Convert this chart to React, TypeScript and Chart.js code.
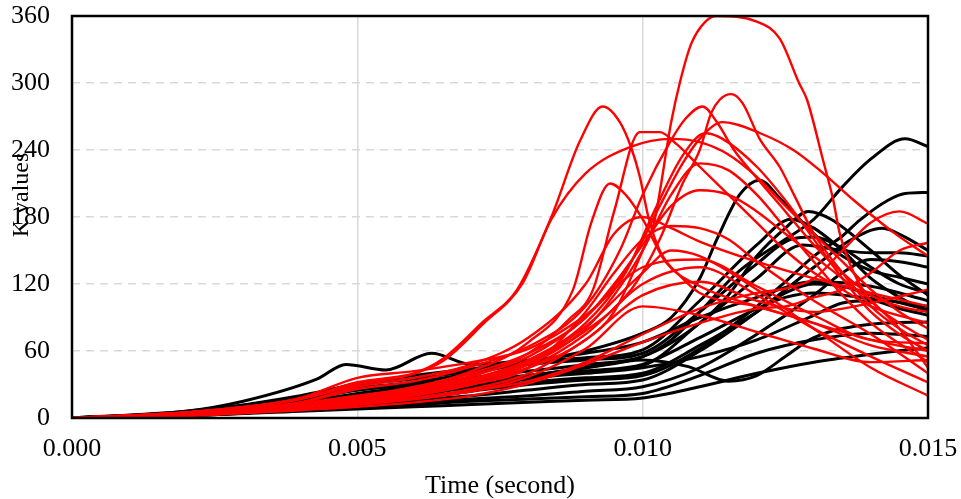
import React, { useEffect, useRef } from "react";
import { Chart, registerables } from "chart.js";

Chart.register(...registerables);

// Time in milliseconds, K value
const xTicks = [0, 0.005, 0.01, 0.015];
const yTicks = [0, 60, 120, 180, 240, 300, 360];

const R1 = [[0,0],[2,5],[4,13],[5,20],[6,26],[7,33],[8,45],[9,70],[9.5,95],[10,150],[10.2,175],[10.5,265],[10.65,300],[10.85,335],[11.1,355],[11.3,360],[12,355],[12.4,340],[12.74,300],[12.88,285],[13.16,231],[13.34,195],[13.45,166],[13.7,130],[14,105],[14.5,85],[15,70]];
const R2 = [[0,0],[2,5],[4,17],[5,30],[6,40],[6.5,53],[7.2,86],[7.8,115],[8.4,180],[8.9,248],[9.3,279],[9.6,265],[9.8,242],[9.95,216],[10.1,180],[10.3,150],[10.7,125],[11,112],[12,100],[13,85],[14,70],[15,60]];
const R3 = [[0,0],[2,5],[4,17],[5,32],[6,40],[6.5,51],[7.2,84],[7.9,121],[8.4,178],[9,219],[9.8,243],[10.5,250],[11,247],[11.5,236],[12,216],[12.5,190],[13,165],[13.5,140],[14,115],[14.5,95],[15,80]];
const R4 = [[0,0],[2,4],[4,12],[5,18],[6,27],[7,42],[8,68],[8.78,115],[9.1,175],[9.43,210],[9.7,200],[10,178],[10.4,140],[11,118],[12,100],[13,85],[14,65],[15,55]];
const R5 = [[0,0],[2,4],[4,11],[5,17],[6,25],[7,37],[8,58],[8.7,88],[9.13,115],[9.5,185],[9.95,256],[10.3,256],[10.6,245],[11,225],[11.5,200],[12,175],[12.5,150],[13,130],[13.5,115],[14,100],[15,85]];
const R6 = [[0,0],[2,4],[4,10],[5,16],[6,23],[7,34],[8,50],[9,78],[9.8,115],[10.3,160],[10.7,210],[11,240],[11.2,273],[11.35,285],[11.55,290],[11.75,282],[12.05,250],[12.4,225],[12.65,200],[13,165],[13.5,130],[14,100],[14.5,80],[15,65]];
const R7 = [[0,0],[2,5],[4,14],[5,26],[6,33],[7,46],[8,64],[9,100],[9.6,150],[10,200],[10.5,249],[10.75,268],[11.05,279],[11.3,265],[11.6,240],[12,215],[12.5,185],[13,155],[13.5,130],[14,110],[14.5,100],[15,95]];
const R8 = [[0,0],[2,4],[4,12],[5,19],[6,28],[7,40],[8,58],[9,90],[9.8,140],[10.3,190],[10.7,228],[11,250],[11.4,265],[12.06,255],[12.64,240],[13.1,222],[13.7,195],[14.4,166],[15,145]];
const R9 = [[0,0],[2,4],[4,11],[5,17],[6,24],[7,35],[8,52],[9,85],[9.7,130],[10.2,185],[10.7,235],[11.1,255],[11.4,250],[12,225],[12.5,195],[13,160],[13.5,125],[14,95],[14.5,75],[15,60]];
const R10 = [[0,0],[2,3],[4,10],[5,15],[6,22],[7,32],[8,48],[9,80],[9.5,110],[10,150],[10.5,200],[11,228],[11.5,222],[12,200],[12.5,170],[13,140],[13.5,110],[14,85],[15,50]];
const R11 = [[0,0],[2,4],[4,12],[5,18],[6,26],[7,38],[8,55],[9,90],[9.5,120],[10,155],[10.5,190],[11,204],[11.5,200],[12,185],[12.5,165],[13,145],[13.5,125],[14,105],[14.5,80],[15,45]];
const R12 = [[0,0],[2,3],[4,9],[5,14],[6,20],[7,30],[8,45],[9,95],[9.5,130],[10,160],[10.5,172],[11,170],[11.5,160],[12,140],[13,105],[14,75],[15,40]];
const R13 = [[0,0],[2,4],[4,14],[5,28],[6,36],[7,48],[8,72],[9,120],[9.5,165],[10,180],[10.5,170],[11,158],[12,140],[13,125],[14,112],[15,100]];
const R14 = [[0,0],[2,3],[4,8],[5,12],[6,17],[7,24],[8,33],[9,50],[10,75],[11,98],[12,112],[12.5,116],[13,125],[13.5,150],[14,175],[14.5,185],[15,174]];
const R15 = [[0,0],[2,2],[4,7],[5,10],[6,14],[7,20],[8,31],[9,48],[10,68],[11,85],[12,98],[12.5,100],[13,108],[13.5,115],[14,130],[14.5,150],[15,157]];
const R16 = [[0,0],[2,3],[4,9],[5,13],[6,18],[7,26],[8,40],[9,70],[10,110],[11,122],[12,105],[13,95],[14,103],[15,115]];
const R17 = [[0,0],[2,4],[4,11],[5,16],[6,22],[7,33],[8,50],[9,82],[10,130],[10.5,150],[11,145],[12,115],[13,80],[14,45],[15,20]];
const R18 = [[0,0],[2,3],[4,10],[5,15],[6,21],[7,30],[8,45],[9,75],[10,120],[11,135],[12,110],[13,80],[14,55],[15,32]];
const R19 = [[0,0],[2,2],[4,8],[5,12],[6,17],[7,24],[8,37],[9,62],[10,100],[11,92],[12,77],[13,62],[14,50],[15,52]];
const R20 = [[0,0],[2,5],[4,18],[5,36],[6,42],[7,50],[8,62],[9,92],[10,135],[11,142],[12,118],[13,92],[14,70],[15,67]];

const B1 = [[0,0],[2,4],[4,14],[5,20],[6,25],[7,30],[8,38],[9,45],[10,55],[10.5,70],[11,95],[11.7,132],[12.5,160],[13,178],[13.5,207],[14,232],[14.6,250],[15,243]];
const B2 = [[0,0],[2,5],[4,18],[5,27],[6,32],[7,40],[8,50],[9,60],[10,76],[10.5,90],[11,125],[11.3,160],[11.7,200],[12.05,213],[12.4,197],[13,165],[13.5,145],[14,132],[14.5,126],[15,120]];
const B3 = [[0,0],[2,3],[4,10],[5,14],[6,18],[7,24],[8,30],[9,34],[10,38],[11,62],[12,100],[12.5,122],[13,145],[13.5,163],[13.8,177],[14.3,195],[14.6,201],[15,202]];
const B4 = [[0,0],[2,5],[4,16],[5,25],[6,30],[7,36],[8,42],[9,48],[10,55],[11,85],[11.5,110],[12,145],[12.5,170],[12.9,185],[13.3,178],[14,150],[14.5,128],[15,110]];
const B5 = [[0,0],[2,6],[4,19],[5,31],[6,38],[7,44],[8,50],[9,54],[10,61],[11,105],[12,155],[12.6,178],[13,170],[13.5,150],[14,125],[14.5,108],[15,95]];
const B6 = [[0,0],[2,3],[4,9],[5,12],[6,16],[7,20],[8,25],[9,30],[10,34],[11,60],[12,95],[13,135],[13.6,158],[14.2,170],[14.6,162],[15,150]];
const B7 = [[0,0],[2,4],[4,14],[5,22],[6,28],[7,33],[8,38],[9,42],[10,47],[11,85],[12,125],[12.8,155],[13.5,150],[14,148],[14.5,148],[15,145]];
const B8 = [[0,0],[2,3],[4,8],[5,11],[6,14],[7,17],[8,20],[9,24],[10,28],[11,45],[12,75],[13,110],[13.5,130],[14,142],[14.5,140],[15,135]];
const B9 = [[0,0],[2,5],[4,20],[5,30],[6,35],[7,42],[8,48],[9,52],[10,58],[11,95],[12,138],[12.6,160],[13,162],[13.5,152],[14,135],[14.5,120],[15,112]];
const B10 = [[0,0],[2,4],[4,12],[5,17],[6,22],[7,27],[8,32],[9,36],[10,40],[11,65],[12,95],[12.5,112],[13,120],[13.5,118],[14,110],[15,97]];
const B11 = [[0,0],[2,4],[4,13],[5,19],[6,25],[7,31],[8,36],[9,40],[10,45],[11,55],[12,70],[13,92],[13.5,103],[14,105],[14.5,98],[15,92]];
const B12 = [[0,0],[2,5],[4,17],[5,25],[6,30],[7,35],[8,38],[9,45],[10,52],[10.8,46],[11.5,33],[12,38],[12.5,55],[13,72],[14,84],[15,86]];
const B13 = [[0,0],[2,2],[4,6],[5,8],[6,10],[7,12],[8,14],[9,16],[10,18],[11,28],[12,40],[13,50],[14,57],[15,63]];
const B14 = [[0,0],[2,2],[4,7],[5,10],[6,12],[7,15],[8,17],[9,19],[10,22],[11,38],[12,58],[13,70],[14,76],[15,73]];
const B15 = [[0,0],[2,6],[3,15],[4.3,35],[4.8,48],[5.5,43],[6.3,58],[7,48],[8,52],[9,58],[10,68],[11,90],[12,108],[13,122],[14,118],[15,105]];
const B16 = [[0,0],[2,4],[4,11],[5,16],[6,20],[7,28],[8,35],[9,42],[10,48],[11,72],[12,98],[12.5,108],[13,112],[14,107],[15,100]];

const redSeries = [R1,R2,R3,R4,R5,R6,R7,R8,R9,R10,R11,R12,R13,R14,R15,R16,R17,R18,R19,R20];
const blackSeries = [B1,B2,B3,B4,B5,B6,B7,B8,B9,B10,B11,B12,B13,B14,B15,B16];

const xTitle = "Time (second)";
const yTitle = "K values";

const FONT = "'Liberation Serif', 'Times New Roman', serif";

function toPoints(s: number[][]) {
  return s.map(([t, k]) => ({ x: t / 1000, y: k }));
}

export default function App() {
  const ref = useRef<HTMLCanvasElement>(null);
  useEffect(() => {
    document.body.style.margin = "0";
    const ctx = ref.current!.getContext("2d")!;
    const mk = (s: number[][], color: string, w: number) => ({
      data: toPoints(s),
      borderColor: color,
      borderWidth: w,
      pointRadius: 0,
      fill: false,
      cubicInterpolationMode: "monotone" as const,
    });
    const datasets = [
      ...redSeries.map((s) => mk(s, "#ff0000", 2.4)),
      ...blackSeries.map((s) => mk(s, "#000000", 3)),
    ];
    const framePlugin = {
      id: "frame",
      afterDatasetsDraw(chart: any) {
        const { left, top, right, bottom } = chart.chartArea;
        const c = chart.ctx;
        c.save();
        c.strokeStyle = "#000";
        c.lineWidth = 2.5;
        c.strokeRect(left, top, right - left, bottom - top);
        c.restore();
      },
      afterDraw(chart: any) {
        const c = chart.ctx;
        c.save();
        c.translate(22, 195);
        c.rotate(-Math.PI / 2);
        c.font = `24px ${FONT}`;
        c.fillStyle = "#000";
        c.textAlign = "center";
        c.textBaseline = "middle";
        c.fillText(yTitle, 0, 0);
        c.restore();
      },
    };
    const chart = new Chart(ctx, {
      type: "line",
      data: { datasets },
      plugins: [framePlugin],
      options: {
        animation: false,
        responsive: false,
        maintainAspectRatio: false,
        layout: { padding: { top: 16, right: 33, left: 0, bottom: 0 } },
        plugins: { legend: { display: false }, tooltip: { enabled: false } },
        scales: {
          x: {
            type: "linear",
            min: 0,
            max: 0.015,
            afterBuildTicks: (s: any) => { s.ticks = xTicks.map((v) => ({ value: v })); },
            afterFit: (s: any) => {
              s.height = 81;
              s.paddingLeft = 0; s.paddingRight = 0; s.paddingTop = 0; s.paddingBottom = 0;
            },
            border: { display: false },
            grid: { color: "#d9d9d9", lineWidth: 1.5, drawTicks: false },
            ticks: {
              padding: 16,
              color: "#000",
              font: { family: FONT, size: 26 },
              callback: (v: any) => Number(v).toFixed(3),
              maxRotation: 0,
            },
            title: {
              display: true,
              text: xTitle,
              color: "#000",
              font: { family: FONT, size: 26, lineHeight: 1 },
              padding: { top: 0, bottom: 0 },
            },
          },
          y: {
            type: "linear",
            min: 0,
            max: 360,
            afterBuildTicks: (s: any) => { s.ticks = yTicks.map((v) => ({ value: v })); },
            afterFit: (s: any) => {
              s.width = 72;
              s.paddingLeft = 0; s.paddingRight = 0; s.paddingTop = 0; s.paddingBottom = 0;
            },
            border: { display: false, dash: [8, 6] },
            grid: { color: "#d9d9d9", lineWidth: 1.5, drawTicks: false },
            ticks: {
              padding: 22,
              color: "#000",
              font: { family: FONT, size: 26 },
            },
          },
        },
      },
    } as any);
    return () => chart.destroy();
  }, []);
  return (
    <div style={{ width: 961, height: 499 }}>
      <canvas ref={ref} width={961} height={499} style={{ display: "block" }} />
    </div>
  );
}
